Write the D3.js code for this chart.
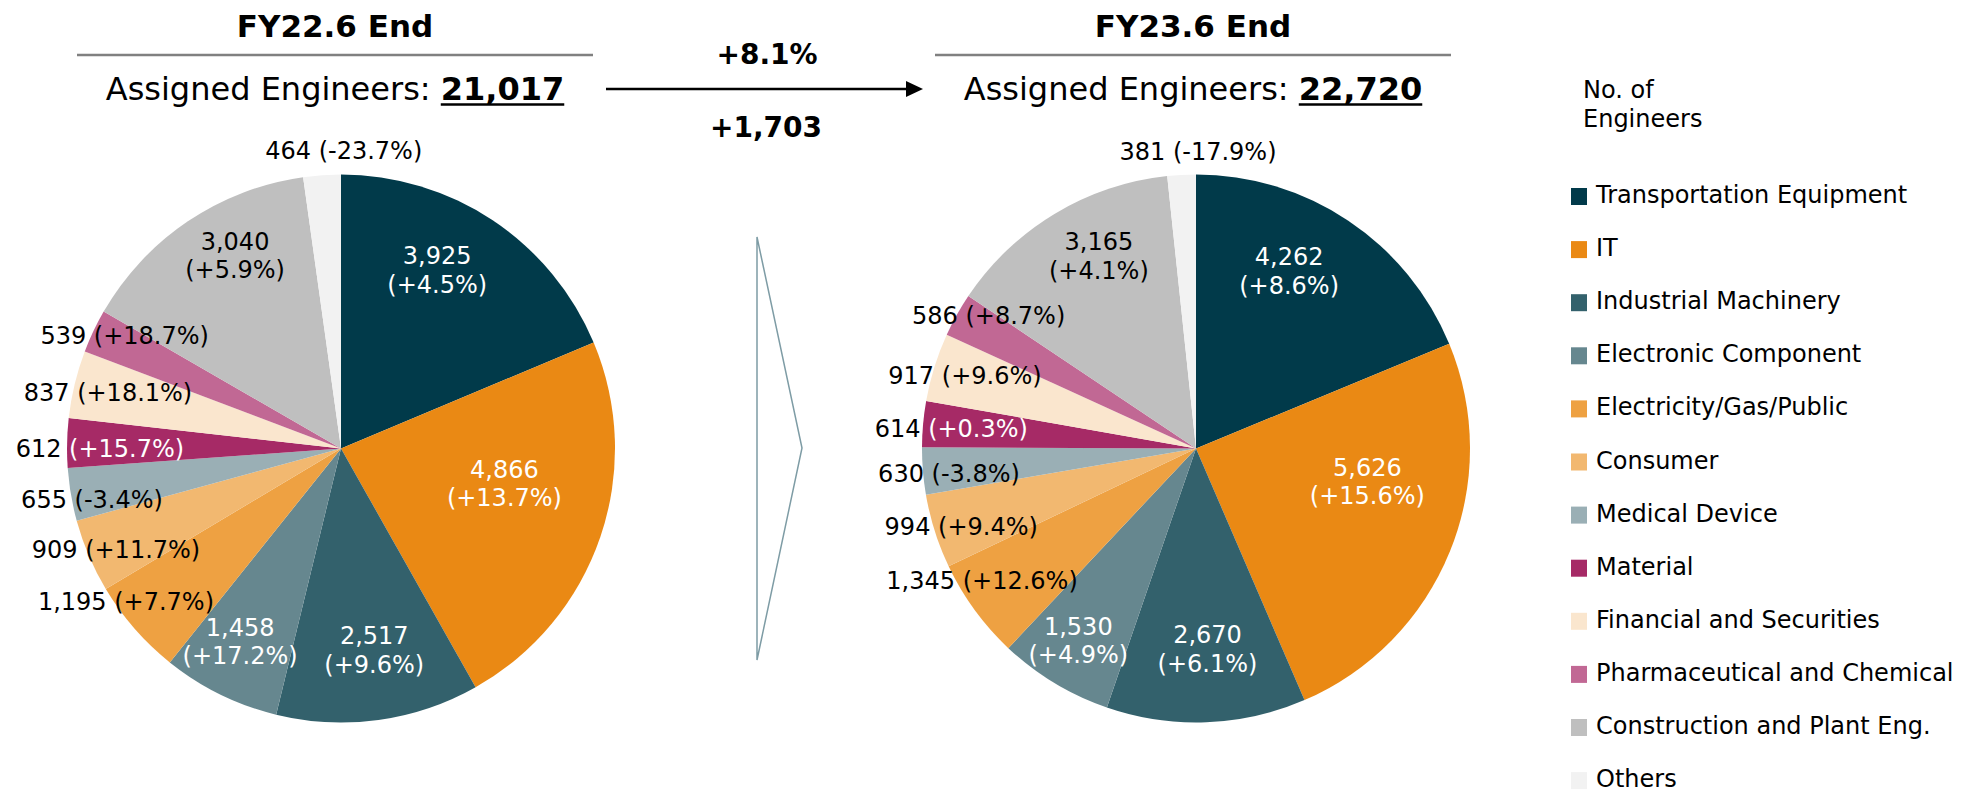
<!DOCTYPE html>
<html>
<head>
<meta charset="utf-8">
<script src="https://cdnjs.cloudflare.com/ajax/libs/d3/7.8.5/d3.min.js"></script>
<style>
  body { margin: 0; background: #fff; }
  svg { display: block; font-family: "DejaVu Sans", Verdana, sans-serif; }
</style>
</head>
<body>
<svg id="chart"></svg>
<script>
// ---------- data ----------
const categories = [
  "Transportation Equipment", "IT", "Industrial Machinery", "Electronic Component",
  "Electricity/Gas/Public", "Consumer", "Medical Device", "Material",
  "Financial and Securities", "Pharmaceutical and Chemical",
  "Construction and Plant Eng.", "Others"
];
const periods = ["FY22.6 End", "FY23.6 End"];
const fy22Values = [3925, 4866, 2517, 1458, 1195, 909, 655, 612, 837, 539, 3040, 464];
const fy22Growth = [4.5, 13.7, 9.6, 17.2, 7.7, 11.7, -3.4, 15.7, 18.1, 18.7, 5.9, -23.7];
const fy23Values = [4262, 5626, 2670, 1530, 1345, 994, 630, 614, 917, 586, 3165, 381];
const fy23Growth = [8.6, 15.6, 6.1, 4.9, 12.6, 9.4, -3.8, 0.3, 9.6, 8.7, 4.1, -17.9];

// ---------- style ----------
const colors = ["#013a4a", "#ea8914", "#33616c", "#66878f", "#eea142", "#f2b870",
                "#9aafb5", "#a62a66", "#fae6ce", "#c16894", "#bfbfbf", "#f2f2f2"];
const labelInk = ["#fff", "#fff", "#fff", "#fff", "#000", "#000", "#000", "mix", "#000", "#000", "#000", "#000"];
const twoLine = [true, true, true, true, false, false, false, false, false, false, true, false];

// label placement: radius factor and turn (deg) from slice mid angle
const labelK22 = [0.74, 0.61, 0.746, 0.795, 0.964, 0.901, 0.928, 0.88, 0.875, 0.89, 0.803, 1.086];
const labelTurn22 = [-5.3, -6.8, -1.5, 1.4, 5.6, -1.2, -2, -1.1, 0, 2.1, 5.2, 4.5];
const labelK23 = [0.732, 0.637, 0.734, 0.822, 0.917, 0.903, 0.906, 0.896, 0.884, 0.899, 0.786, 1.082];
const labelTurn23 = [-6.1, -11.2, -1.1, 0.4, 4.5, -0.8, -1, -0.5, 0.2, 3.5, 4.3, 3.4];

const width = 1962;
const height = 795;
const radius = 274;
const pieY = 448.5;
const leftX = 341;
const rightX = 1196;

const svg = d3.select("#chart")
  .attr("width", width)
  .attr("height", height);

const fmt = d3.format(",");
const pct = v => "(" + (v > 0 ? "+" : "") + v.toFixed(1) + "%)";

// ---------- headers ----------
function drawHeader(cx, title, total) {
  svg.append("text")
    .attr("x", cx)
    .attr("y", 37)
    .attr("text-anchor", "middle")
    .style("font-size", "31px")
    .style("font-weight", "bold")
    .text(title);

  svg.append("line")
    .attr("x1", cx - 258)
    .attr("x2", cx + 258)
    .attr("y1", 55)
    .attr("y2", 55)
    .attr("stroke", "#808080")
    .attr("stroke-width", 2.5);

  const t = svg.append("text")
    .attr("x", cx)
    .attr("y", 100)
    .attr("text-anchor", "middle")
    .style("font-size", "32px");
  t.append("tspan").text("Assigned Engineers: ");
  const num = t.append("tspan").style("font-weight", "bold").text(fmt(total));

  const full = t.node().getComputedTextLength();
  const numLen = num.node().getComputedTextLength();
  svg.append("line")
    .attr("x1", cx + full / 2 - numLen)
    .attr("x2", cx + full / 2)
    .attr("y1", 104.5)
    .attr("y2", 104.5)
    .attr("stroke", "#000")
    .attr("stroke-width", 2.5);
}

const total22 = d3.sum(fy22Values);
const total23 = d3.sum(fy23Values);
drawHeader(335, periods[0], total22);
drawHeader(1193, periods[1], total23);

// ---------- change arrow ----------
const diff = total23 - total22;
const diffPct = diff / total22 * 100;

svg.append("line")
  .attr("x1", 606)
  .attr("x2", 910)
  .attr("y1", 89)
  .attr("y2", 89)
  .attr("stroke", "#000")
  .attr("stroke-width", 2.5);

svg.append("path")
  .attr("d", "M906,81 L923,89 L906,97 Z")
  .attr("fill", "#000");

svg.append("text")
  .attr("x", 767)
  .attr("y", 64)
  .attr("text-anchor", "middle")
  .style("font-size", "28px")
  .style("font-weight", "bold")
  .text("+" + diffPct.toFixed(1) + "%");

svg.append("text")
  .attr("x", 766)
  .attr("y", 137)
  .attr("text-anchor", "middle")
  .style("font-size", "28px")
  .style("font-weight", "bold")
  .text("+" + fmt(diff));

// outline chevron between pies
svg.append("path")
  .attr("d", "M757,237 L802,448 L757,660 Z")
  .attr("fill", "none")
  .attr("stroke", "#7e9ca5")
  .attr("stroke-width", 1.5);

// ---------- pies ----------
const pie = d3.pie().sort(null).value(d => d);
const arc = d3.arc().innerRadius(0).outerRadius(radius);

function drawPie(cx, values, growth, labelK, labelTurn) {
  const g = svg.append("g")
    .attr("transform", `translate(${cx},${pieY})`);

  const arcs = pie(values);

  g.selectAll("path.slice")
    .data(arcs)
    .join("path")
    .attr("class", "slice")
    .attr("d", arc)
    .attr("fill", (d, i) => colors[i]);

  arcs.forEach((d, i) => {
    const a = (d.startAngle + d.endAngle) / 2 + labelTurn[i] * Math.PI / 180;
    const r = radius * labelK[i];
    const x = Math.sin(a) * r;
    const y = -Math.cos(a) * r;

    const t = g.append("text")
      .attr("x", x)
      .attr("text-anchor", "middle")
      .style("font-size", "24px");

    if (twoLine[i]) {
      t.attr("y", y - 6).attr("fill", labelInk[i]);
      t.append("tspan").attr("x", x).text(fmt(d.data));
      t.append("tspan").attr("x", x).attr("dy", "1.2em").text(pct(growth[i]));
    } else if (labelInk[i] === "mix") {
      t.attr("y", y + 8.4);
      t.append("tspan").attr("fill", "#000").text(fmt(d.data) + " ");
      t.append("tspan").attr("fill", "#fff").text(pct(growth[i]));
    } else {
      t.attr("y", y + 8.4)
        .attr("fill", labelInk[i])
        .text(fmt(d.data) + " " + pct(growth[i]));
    }
  });
}

drawPie(leftX, fy22Values, fy22Growth, labelK22, labelTurn22);
drawPie(rightX, fy23Values, fy23Growth, labelK23, labelTurn23);

// ---------- legend ----------
const legendTitle = svg.append("text")
  .attr("x", 1583)
  .attr("y", 98)
  .style("font-size", "24px");
legendTitle.append("tspan").attr("x", 1583).text("No. of");
legendTitle.append("tspan").attr("x", 1583).attr("dy", 29).text("Engineers");

const legend = svg.selectAll(".legend")
  .data(categories)
  .join("g")
  .attr("class", "legend")
  .attr("transform", (d, i) => `translate(1571,${188 + i * 53.1})`);

legend.append("rect")
  .attr("width", 16)
  .attr("height", 17)
  .attr("fill", (d, i) => colors[i]);

legend.append("text")
  .attr("x", 25)
  .attr("y", 15)
  .style("font-size", "24px")
  .text(d => d);
</script>
</body>
</html>
